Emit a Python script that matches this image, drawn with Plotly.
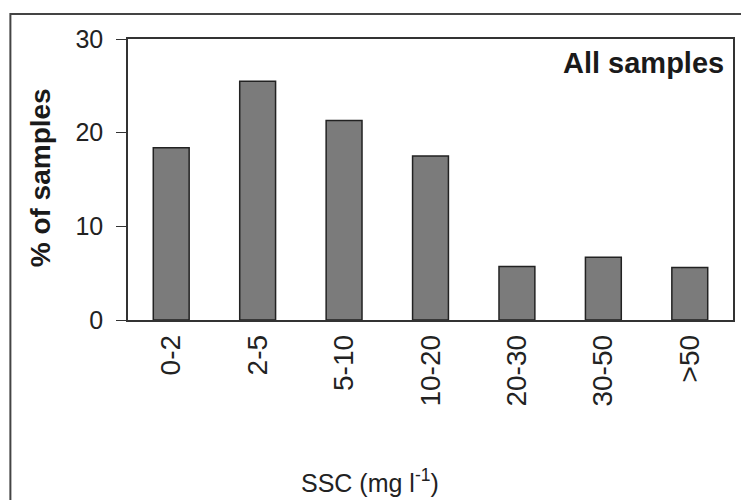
import plotly.graph_objects as go

categories = ["0-2", "2-5", "5-10", "10-20", "20-30", "30-50", ">50"]
percent_samples = [18.4, 25.5, 21.3, 17.5, 5.7, 6.7, 5.6]
y_ticks = [0, 10, 20, 30]

FONT = "Arial, Liberation Sans, sans-serif"

fig = go.Figure(
    go.Bar(
        x=categories,
        y=percent_samples,
        marker=dict(color="#7b7b7b", line=dict(color="#222222", width=1.5)),
    )
)

L, R, T, B = 128, 6, 39, 180
W, H = 741, 500
pw, ph = W - L - R, H - T - B


def px_x(x):
    return (x - L) / pw


def px_y(y):
    return (H - B - y) / ph


fig.update_layout(
    width=W,
    height=H,
    margin=dict(l=L, r=R, t=T, b=B),
    paper_bgcolor="white",
    plot_bgcolor="white",
    bargap=0.585,
    showlegend=False,
    font=dict(family=FONT, color="#222222"),
    xaxis=dict(
        showline=True,
        linecolor="#333333",
        linewidth=1.5,
        mirror=True,
        ticks="",
        tickangle=-90,
        tickfont=dict(size=28, family=FONT, color="#222222"),
        ticklabelstandoff=2,
        showgrid=False,
    ),
    yaxis=dict(
        range=[0, 30],
        tickvals=y_ticks,
        showline=True,
        linecolor="#333333",
        linewidth=1.5,
        mirror=True,
        ticks="outside",
        ticklen=10,
        tickcolor="#333333",
        tickfont=dict(size=25, family=FONT, color="#222222"),
        ticklabelstandoff=8,
        showgrid=False,
        zeroline=False,
    ),
    annotations=[
        dict(
            text="<b>All samples</b>",
            xref="paper", yref="paper",
            x=px_x(728), y=px_y(63),
            xanchor="right", yanchor="middle",
            showarrow=False,
            font=dict(size=29, family=FONT, color="#1a1a1a"),
        ),
        dict(
            text="<b>% of samples</b>",
            xref="paper", yref="paper",
            x=px_x(40), y=px_y(178),
            xanchor="center", yanchor="middle",
            textangle=-90,
            showarrow=False,
            font=dict(size=28, family=FONT, color="#1a1a1a"),
        ),
        dict(
            text="SSC (mg l<sup>-1</sup>)",
            xref="paper", yref="paper",
            x=px_x(371), y=px_y(481),
            xanchor="center", yanchor="middle",
            showarrow=False,
            font=dict(size=25, family=FONT, color="#222222"),
        ),
    ],
    shapes=[
        dict(
            type="rect",
            xref="paper", yref="paper",
            x0=px_x(10), x1=px_x(748),
            y0=px_y(510), y1=px_y(14),
            line=dict(color="#444444", width=2),
            fillcolor="rgba(0,0,0,0)",
            layer="below",
        )
    ],
)

fig.write_html(
    "out.html",
    config={"displayModeBar": False},
    post_script="document.body.style.margin='0';document.body.style.overflow='hidden';",
)
